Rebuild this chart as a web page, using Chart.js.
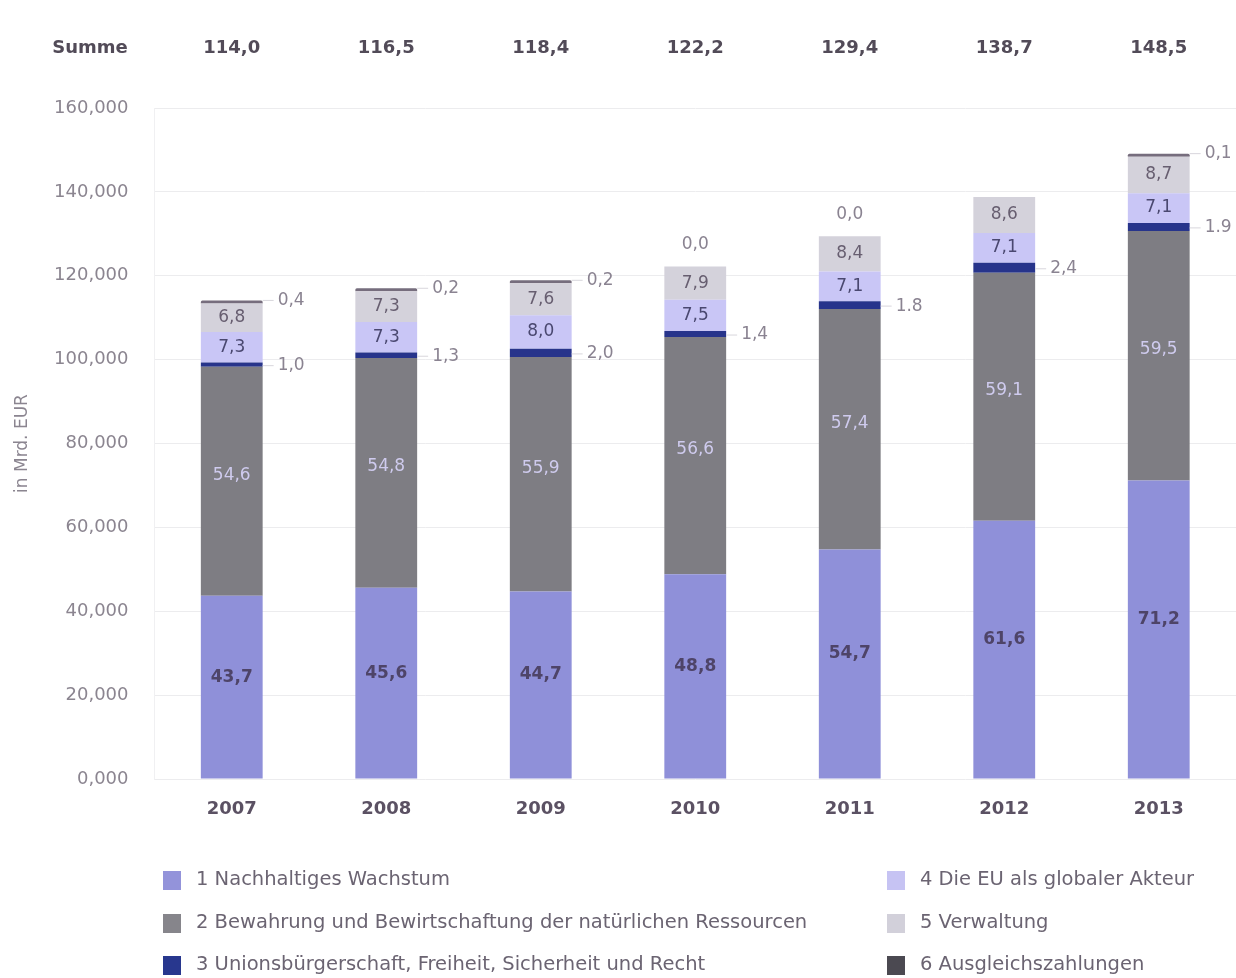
<!DOCTYPE html>
<html>
<head>
<meta charset="utf-8">
<script src="https://cdn.jsdelivr.net/npm/chart.js@4.4.1/dist/chart.umd.min.js"></script>
<style>
  html, body { margin: 0; padding: 0; background: #fff; }
  #wrap { width: 1236px; height: 978px; }
</style>
</head>
<body>
<div id="wrap"><canvas id="chart" width="1236" height="978"></canvas></div>
<script>
// Data (Mrd. EUR)
const years = ['2007', '2008', '2009', '2010', '2011', '2012', '2013'];
const sums = ['114,0', '116,5', '118,4', '122,2', '129,4', '138,7', '148,5'];
const wachstum = [43.7, 45.6, 44.7, 48.8, 54.7, 61.6, 71.2];
const ressourcen = [54.6, 54.8, 55.9, 56.6, 57.4, 59.1, 59.5];
const union = [1.0, 1.3, 2.0, 1.4, 1.8, 2.4, 1.9];
const akteur = [7.3, 7.3, 8.0, 7.5, 7.1, 7.1, 7.1];
const verwaltung = [6.8, 7.3, 7.6, 7.9, 8.4, 8.6, 8.7];
const ausgleich = [0.4, 0.2, 0.2, 0.0, 0.0, 0.0, 0.1];
// label texts as printed (some use a point instead of a comma, 2012 has none)
const unionText = ['1,0', '1,3', '2,0', '1,4', '1.8', '2,4', '1.9'];
const ausgleichText = ['0,4', '0,2', '0,2', '0,0', '0,0', '', '0,1'];
const seriesNames = [
  '1 Nachhaltiges Wachstum',
  '2 Bewahrung und Bewirtschaftung der natürlichen Ressourcen',
  '3 Unionsbürgerschaft, Freiheit, Sicherheit und Recht',
  '4 Die EU als globaler Akteur',
  '5 Verwaltung',
  '6 Ausgleichszahlungen'
];

const FONT = "'DejaVu Sans', sans-serif";
const colors = ['#8f90d9', '#7e7d83', '#27348b', '#c9c6f6', '#d4d2db', '#766d7d'];
const legendColors = ['#9393da', '#86858b', '#28378e', '#c6c3f3', '#d2d0da', '#4b4951'];

const fmt = v => v.toFixed(1).replace('.', ',');

// value labels, sum row and legend
const labelPlugin = {
  id: 'labels',
  afterDatasetsDraw(chart) {
    const ctx = chart.ctx;
    ctx.save();
    ctx.textBaseline = 'middle';

    const inside = (bar, text, color, dy, bold) => {
      ctx.font = (bold ? 'bold ' : '') + '17px ' + FONT;
      ctx.fillStyle = color;
      ctx.textAlign = 'center';
      ctx.fillText(text, bar.x, (bar.y + bar.base) / 2 + dy);
    };
    const outside = (bar, text, yPos) => {
      const right = bar.x + bar.width / 2;
      ctx.strokeStyle = '#d8d6dc';
      ctx.lineWidth = 1;
      ctx.beginPath();
      ctx.moveTo(right, yPos);
      ctx.lineTo(right + 11, yPos);
      ctx.stroke();
      ctx.font = '17px ' + FONT;
      ctx.fillStyle = '#8a8391';
      ctx.textAlign = 'left';
      ctx.fillText(text, right + 15, yPos);
    };

    years.forEach((yr, i) => {
      const b1 = chart.getDatasetMeta(0).data[i];
      const b2 = chart.getDatasetMeta(1).data[i];
      const b3 = chart.getDatasetMeta(2).data[i];
      const b4 = chart.getDatasetMeta(3).data[i];
      const b5 = chart.getDatasetMeta(4).data[i];
      const b6 = chart.getDatasetMeta(5).data[i];

      inside(b1, fmt(wachstum[i]), '#4e4468', -10, true);
      inside(b2, fmt(ressourcen[i]), '#cfcbee', -6, false);
      inside(b4, fmt(akteur[i]), '#4a4870', 0, false);
      inside(b5, fmt(verwaltung[i]), '#675e70', 0, false);
      outside(b3, unionText[i], (b3.y + b3.base) / 2 + 1);

      if (ausgleichText[i]) {
        if (ausgleich[i] > 0) {
          outside(b6, ausgleichText[i], b6.y);
        } else {
          ctx.font = '17px ' + FONT;
          ctx.fillStyle = '#8a8391';
          ctx.textAlign = 'center';
          ctx.fillText(ausgleichText[i], b5.x, b5.y - 22);
        }
      }

      // sum row
      ctx.font = 'bold 18px ' + FONT;
      ctx.fillStyle = '#524b58';
      ctx.textAlign = 'center';
      ctx.fillText(sums[i], b1.x, 48);
    });
    ctx.fillText('Summe', 90, 48);
    ctx.restore();
  },
  afterDraw(chart) {
    const ctx = chart.ctx;
    ctx.save();
    ctx.font = '19.5px ' + FONT;
    ctx.textBaseline = 'middle';
    ctx.textAlign = 'left';
    const pos = [[163, 880], [163, 923], [163, 965], [887, 880], [887, 923], [887, 965]];
    seriesNames.forEach((name, k) => {
      const [x, y] = pos[k];
      ctx.fillStyle = legendColors[k];
      ctx.fillRect(x, y - 9, 18, 19);
      ctx.fillStyle = '#6b6472';
      ctx.fillText(name, x + 33, y);
    });
    ctx.restore();
  }
};

const datasets = [wachstum, ressourcen, union, akteur, verwaltung].map((vals, k) => ({
  label: seriesNames[k],
  data: vals,
  backgroundColor: colors[k],
  borderWidth: 0
}));
datasets.push({
  label: seriesNames[5],
  data: ausgleich.map(v => (v > 0 ? v : null)),
  backgroundColor: colors[5],
  borderWidth: 0,
  minBarLength: 3,
  borderRadius: 2
});

new Chart(document.getElementById('chart'), {
  type: 'bar',
  data: { labels: years, datasets: datasets },
  options: {
    responsive: false,
    animation: false,
    layout: { padding: { top: 108, right: 0, left: 0, bottom: 0 } },
    datasets: { bar: { barPercentage: 0.4, categoryPercentage: 1 } },
    plugins: { legend: { display: false }, tooltip: { enabled: false } },
    scales: {
      x: {
        stacked: true,
        grid: { display: false, drawTicks: false },
        border: { display: false },
        ticks: { color: '#5b5163', font: { family: FONT, size: 18, weight: 'bold' }, padding: 20 },
        afterFit: s => { s.height = 199; }
      },
      y: {
        stacked: true,
        min: 0,
        max: 160,
        ticks: {
          stepSize: 20,
          color: '#8b8590',
          font: { family: FONT, size: 18 },
          padding: 26,
          callback: v => v.toFixed(3).replace('.', ',')
        },
        grid: { color: '#ececee', drawTicks: false },
        border: { display: true, color: '#f0f0f2' },
        title: { display: true, text: 'in Mrd. EUR', color: '#8b8590', font: { family: FONT, size: 17 }, padding: { top: 12, bottom: 0 } },
        afterFit: s => { s.width = 154.5; }
      }
    }
  },
  plugins: [labelPlugin]
});
</script>
</body>
</html>
